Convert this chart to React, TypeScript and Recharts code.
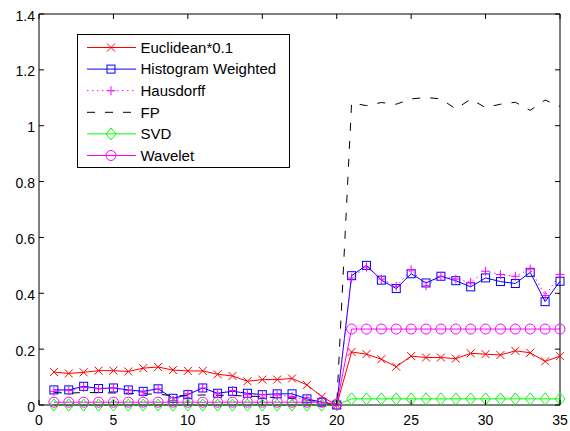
import React from 'react';
import { LineChart, Line, XAxis, YAxis } from 'recharts';

const frames = [1, 2, 3, 4, 5, 6, 7, 8, 9, 10, 11, 12, 13, 14, 15, 16, 17, 18, 19, 20, 21, 22, 23, 24, 25, 26, 27, 28, 29, 30, 31, 32, 33, 34, 35];

const euclidean = [0.118, 0.113, 0.117, 0.123, 0.123, 0.12, 0.132, 0.136, 0.125, 0.122, 0.122, 0.11, 0.104, 0.085, 0.091, 0.091, 0.095, 0.072, 0.03, 0.0,
  0.19, 0.182, 0.164, 0.137, 0.175, 0.17, 0.17, 0.166, 0.185, 0.182, 0.179, 0.194, 0.187, 0.156, 0.175];
const histogram = [0.054, 0.054, 0.067, 0.059, 0.061, 0.054, 0.049, 0.058, 0.024, 0.037, 0.061, 0.042, 0.049, 0.042, 0.037, 0.04, 0.04, 0.022, 0.01, 0.0,
  0.463, 0.5, 0.447, 0.417, 0.47, 0.437, 0.461, 0.445, 0.423, 0.455, 0.442, 0.435, 0.475, 0.37, 0.443];
const hausdorff = [0.049, 0.052, 0.063, 0.058, 0.061, 0.052, 0.046, 0.058, 0.016, 0.04, 0.061, 0.04, 0.052, 0.037, 0.037, 0.036, 0.03, 0.018, 0.007, 0.0,
  0.455, 0.494, 0.451, 0.425, 0.484, 0.427, 0.461, 0.451, 0.439, 0.479, 0.467, 0.461, 0.487, 0.392, 0.467];
const fp = [0.045, 0.042, 0.045, 0.044, 0.043, 0.042, 0.04, 0.038, 0.034, 0.033, 0.036, 0.035, 0.034, 0.032, 0.03, 0.026, 0.023, 0.018, 0.01, 0.0,
  1.081, 1.072, 1.083, 1.077, 1.096, 1.101, 1.096, 1.06, 1.095, 1.065, 1.077, 1.084, 1.055, 1.092, 1.069];
const svd = [0, 0, 0, 0, 0, 0, 0, 0, 0, 0, 0, 0, 0, 0, 0, 0, 0, 0, 0, 0,
  0.022, 0.022, 0.022, 0.022, 0.022, 0.022, 0.022, 0.022, 0.022, 0.022, 0.022, 0.022, 0.022, 0.022, 0.022];
const wavelet = [0.01, 0.01, 0.01, 0.01, 0.01, 0.01, 0.01, 0.01, 0.01, 0.01, 0.01, 0.01, 0.01, 0.01, 0.01, 0.01, 0.01, 0.01, 0.01, 0.003,
  0.272, 0.272, 0.272, 0.272, 0.272, 0.272, 0.272, 0.272, 0.272, 0.272, 0.272, 0.272, 0.272, 0.272, 0.272];

const xTicks = [0, 5, 10, 15, 20, 25, 30, 35];
const yTicks = [0, 0.2, 0.4, 0.6, 0.8, 1, 1.2, 1.4];

const data = frames.map((x, i) => ({
  x,
  euclidean: euclidean[i],
  histogram: histogram[i],
  hausdorff: hausdorff[i],
  fp: fp[i],
  svd: svd[i],
  wavelet: wavelet[i],
}));

const FONT = '"Liberation Sans", Arial, sans-serif';

type Mk = 'x' | 'square' | 'plus' | 'diamond' | 'circle' | 'none';

const marker = (kind: Mk, cx: number, cy: number, color: string, key?: any) => {
  switch (kind) {
    case 'x':
      return <path key={key} d={`M${cx - 4},${cy - 4}L${cx + 4},${cy + 4}M${cx - 4},${cy + 4}L${cx + 4},${cy - 4}`} stroke={color} strokeWidth={1} fill="none" />;
    case 'square':
      return <rect key={key} x={cx - 4} y={cy - 4} width={8} height={8} stroke={color} strokeWidth={1} fill="none" />;
    case 'plus':
      return <path key={key} d={`M${cx - 4.5},${cy}L${cx + 4.5},${cy}M${cx},${cy - 4.5}L${cx},${cy + 4.5}`} stroke={color} strokeWidth={1} fill="none" />;
    case 'diamond':
      return <path key={key} d={`M${cx},${cy - 6}L${cx + 5},${cy}L${cx},${cy + 6}L${cx - 5},${cy}Z`} stroke={color} strokeWidth={1} fill="none" />;
    case 'circle':
      return <circle key={key} cx={cx} cy={cy} r={5} stroke={color} strokeWidth={1} fill="none" />;
    default:
      return <g key={key} />;
  }
};

const dotOf = (kind: Mk, color: string) => (props: any) => {
  const { cx, cy, key, index } = props;
  if (cx == null || cy == null) return <g key={key ?? index} />;
  return marker(kind, cx, cy, color, key ?? index);
};

// the box's top and right axes share the same scale, so two series hang on them to keep them drawn
const series = [
  { key: 'euclidean', name: 'Euclidean*0.1', color: '#ff0000', mk: 'x' as Mk, dash: undefined, xId: 'top', yId: 0 },
  { key: 'histogram', name: 'Histogram Weighted', color: '#0000ff', mk: 'square' as Mk, dash: undefined, xId: 0, yId: 0 },
  { key: 'hausdorff', name: 'Hausdorff', color: '#ff00ff', mk: 'plus' as Mk, dash: '1.5 3.5', xId: 0, yId: 0 },
  { key: 'fp', name: 'FP', color: '#000000', mk: 'none' as Mk, dash: '8 10', xId: 0, yId: 0 },
  { key: 'svd', name: 'SVD', color: '#00ff00', mk: 'diamond' as Mk, dash: undefined, xId: 0, yId: 'right' },
  { key: 'wavelet', name: 'Wavelet', color: '#ff00ff', mk: 'circle' as Mk, dash: undefined, xId: 0, yId: 0 },
];

const BottomTick = (props: any) => {
  const { x, y, payload } = props;
  return (
    <g>
      <line x1={x} x2={x} y1={y} y2={y - 5} stroke="#000" />
      <text x={x} y={y + 19.5} textAnchor="middle" fontFamily={FONT} fontSize={14} fill="#000">{payload.value}</text>
    </g>
  );
};

const LeftTick = (props: any) => {
  const { x, y, payload } = props;
  return (
    <g>
      <line x1={x} x2={x + 5} y1={y} y2={y} stroke="#000" />
      <text x={x - 4} y={y + 6.5} textAnchor="end" fontFamily={FONT} fontSize={14} fill="#000">{payload.value}</text>
    </g>
  );
};

const TopTick = (props: any) => {
  const { x, y } = props;
  return <line x1={x} x2={x} y1={y} y2={y + 5} stroke="#000" />;
};

const RightTick = (props: any) => {
  const { x, y } = props;
  return <line x1={x} x2={x - 5} y1={y} y2={y} stroke="#000" />;
};

const LegendBox = () => (
  <svg width={213} height={134} style={{ display: 'block' }}>
    <rect x={0.5} y={0.5} width={212} height={133} fill="#fff" stroke="#000" />
    {series.map((s, i) => {
      const y = 13.5 + i * 21.6;
      return (
        <g key={s.key}>
          <line x1={10} x2={59} y1={y} y2={y} stroke={s.color} strokeDasharray={s.dash} />
          {marker(s.mk, 34, y, s.color)}
          <text x={63.5} y={y + 5.3} fontFamily={FONT} fontSize={15} fill="#000">{s.name}</text>
        </g>
      );
    })}
  </svg>
);

export default function App() {
  return (
    <div style={{ position: 'absolute', left: 0, top: 0, width: 570, height: 431, background: '#fff' }}>
      <LineChart width={570} height={431} data={data} margin={{ top: 13, right: 9, bottom: 0, left: 0 }}>
        <XAxis dataKey="x" type="number" domain={[0, 35]} ticks={xTicks} height={26}
          axisLine={{ stroke: '#000' }} tickLine={false} tickSize={0} tickMargin={0} tick={<BottomTick />} interval={0} />
        <XAxis xAxisId="top" orientation="top" dataKey="x" type="number" domain={[0, 35]} ticks={xTicks} height={1}
          axisLine={{ stroke: '#000' }} tickLine={false} tickSize={0} tickMargin={0} tick={<TopTick />} interval={0} />
        <YAxis type="number" domain={[0, 1.4]} ticks={yTicks} width={39}
          axisLine={{ stroke: '#000' }} tickLine={false} tickSize={0} tickMargin={0} tick={<LeftTick />} interval={0} />
        <YAxis yAxisId="right" orientation="right" type="number" domain={[0, 1.4]} ticks={yTicks} width={1}
          axisLine={{ stroke: '#000' }} tickLine={false} tickSize={0} tickMargin={0} tick={<RightTick />} interval={0} />
        {series.map((s) => (
          <Line key={s.key} type="linear" dataKey={s.key} name={s.name} stroke={s.color} strokeWidth={1}
            xAxisId={s.xId} yAxisId={s.yId}
            strokeDasharray={s.dash} dot={s.mk === 'none' ? false : dotOf(s.mk, s.color)} activeDot={false}
            isAnimationActive={false} />
        ))}
      </LineChart>
      <div style={{ position: 'absolute', left: 77, top: 34 }}>
        <LegendBox />
      </div>
    </div>
  );
}
